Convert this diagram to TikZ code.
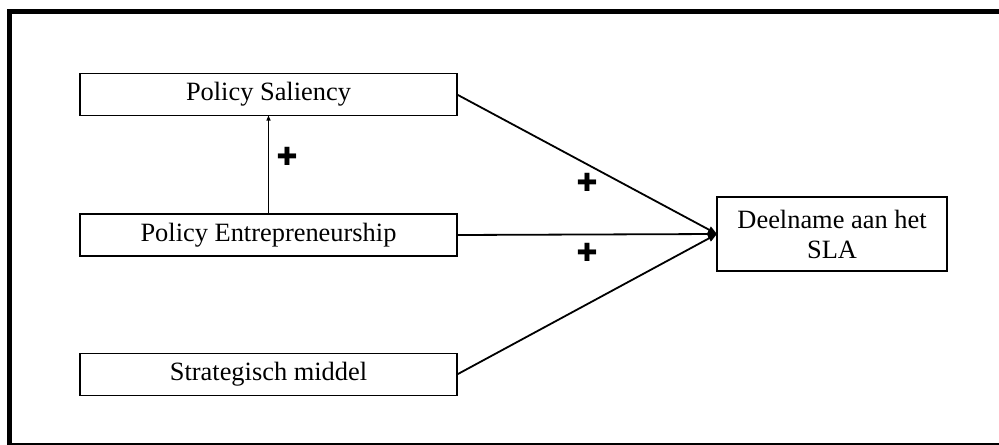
\documentclass[tikz,border=0pt]{standalone}
\usepackage{fontspec}
\setmainfont{Liberation Serif}
\newfontfamily\plusfont{DejaVu Sans}
\usetikzlibrary{arrows.meta}

\tikzset{
  varbox/.style={draw,line width=0.9pt,inner sep=0pt,outer sep=0pt,
    minimum width=188.5pt,minimum height=21pt,font=\fontsize{13.2}{15}\selectfont},
  plus/.style={font=\plusfont\bfseries\fontsize{12.5}{14}\selectfont,inner sep=0pt},
  link/.style={line width=0.9pt,-{Triangle[length=4.5pt,width=3.5pt]}}
}

\begin{document}
\begin{tikzpicture}[x=0.5pt,y=-0.5pt]
\useasboundingbox (0,0) rectangle (999,444);
\clip (0,0) rectangle (999,444);
\draw[line width=2.5pt] (9,12) rectangle (1030,445);
\node[varbox] (sal) at (268.5,94.5) {Policy Saliency};
\node[varbox] (ent) at (268.5,235) {Policy Entrepreneurship};
\node[varbox] (strat) at (268.5,374.5) {Strategisch middel};
\node[varbox,minimum width=115pt,minimum height=37pt,align=center] (sla) at (832,234) {Deelname aan het\\SLA};
\draw[link] (sal.east) -- (sla.west);
\draw[link] (ent.east) -- (sla.west);
\draw[link] (strat.east) -- (sla.west);
\draw[line width=0.9pt,-{Triangle[length=2.5pt,width=2pt]}] (ent.north) -- (sal.south);
\node[plus] (p1) at (287,156) {✚};
\node[plus] (p2) at (587,182) {✚};
\node[plus] (p3) at (587,252) {✚};
\end{tikzpicture}
\end{document}
